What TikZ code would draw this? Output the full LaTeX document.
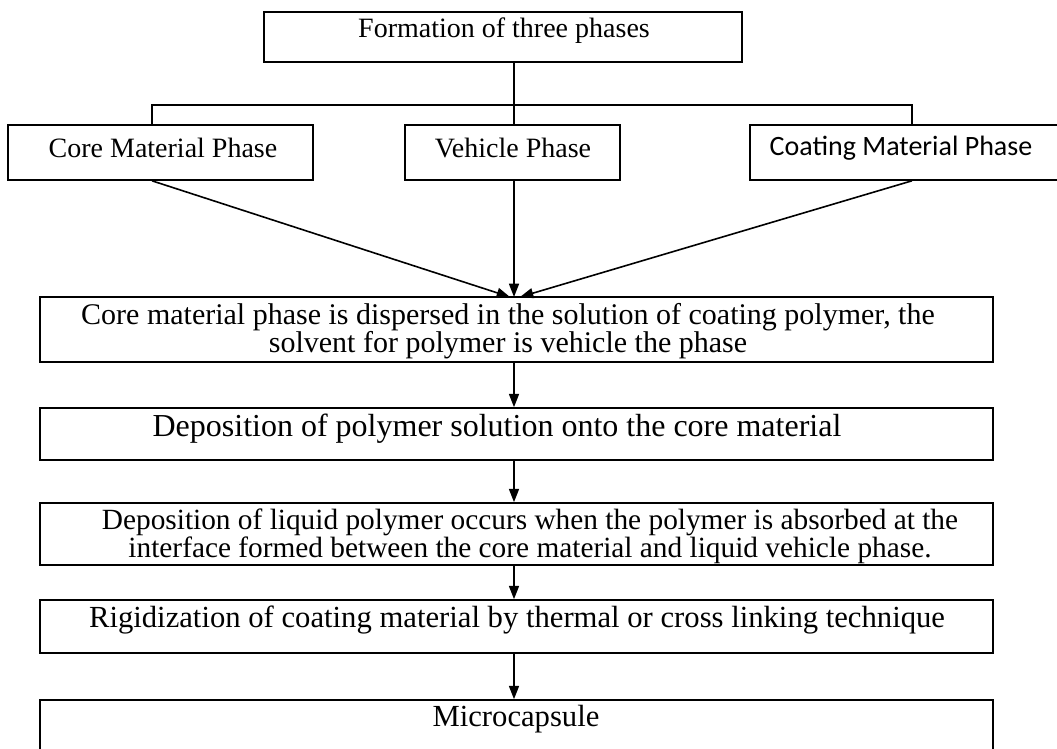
\documentclass[tikz,border=0pt]{standalone}
\usepackage{fontspec}
\setmainfont{Liberation Serif}
\newfontfamily\calib{Carlito}
\usetikzlibrary{arrows.meta,fit}
\begin{document}
\begin{tikzpicture}[x=0.75pt,y=-0.75pt,
  box/.style={draw, line width=1.2pt, inner sep=0pt},
  lbl/.style={anchor=center, inner sep=0pt, align=center, font=\fontsize{21}{21}\selectfont},
  conn/.style={line width=1.2pt},
  arr/.style={conn, -{Triangle[length=10pt,width=7.5pt]}}]
\clip (0,0) rectangle (1057,749);
% boxes
\node[box, fit={(264,12) (742,62)}] (top) {};
\node[box, fit={(8,125) (313,180)}] (core) {};
\node[box, fit={(405,125) (620,180)}] (veh) {};
\node[box, fit={(750,125) (1065,180)}] (coat) {};
\node[box, fit={(40,297) (993,362)}] (b1) {};
\node[box, fit={(40,408) (993,460)}] (b2) {};
\node[box, fit={(40,503) (993,565)}] (b3) {};
\node[box, fit={(40,600) (993,653)}] (b4) {};
\node[box, fit={(40,700) (993,760)}] (b5) {};
% texts
\node[lbl] (ttop) at (504,31) {Formation of three phases};
\node[lbl] (tcore) at (163,148) {Core Material Phase};
\node[lbl] (tveh) at (513,148) {Vehicle Phase};
\node[lbl, font=\calib\fontsize{21}{21}\selectfont] (tcoat) at (901,148) {Coating Material Phase};
\node[lbl, font=\fontsize{22.5}{21}\selectfont] (t1) at (508,331) {Core material phase is dispersed in the solution of coating polymer, the\\solvent for polymer is vehicle the phase};
\node[lbl, font=\fontsize{24}{21}\selectfont] (t2) at (497,429) {Deposition of polymer solution onto the core material};
\node[lbl, font=\fontsize{22}{21}\selectfont] (t3) at (530,536) {Deposition of liquid polymer occurs when the polymer is absorbed at the\\interface formed between the core material and liquid vehicle phase.};
\node[lbl, font=\fontsize{23}{21}\selectfont] (t4) at (517,620) {Rigidization of coating material by thermal or cross linking technique};
\node[lbl, font=\fontsize{23}{21}\selectfont] (t5) at (516,719) {Microcapsule};
% connectors
\coordinate (bl) at (152,105);
\coordinate (br) at (912,105);
\coordinate (spine) at (514,105);
\draw[conn] (spine |- top.south) -- (spine |- veh.north);
\draw[conn] (bl |- core.north) -- (bl) -- (br) -- (br |- coat.north);
\coordinate (mL) at (510,297);
\coordinate (mC) at (514,297);
\coordinate (mR) at (520,297);
\draw[arr] (bl |- core.south) -- (mL);
\draw[arr] (spine |- veh.south) -- (mC);
\draw[arr] (br |- coat.south) -- (mR);
\draw[arr] (spine |- b1.south) -- (spine |- b2.north);
\draw[arr] (spine |- b2.south) -- (spine |- b3.north);
\draw[arr] (spine |- b3.south) -- (spine |- b4.north);
\draw[arr] (spine |- b4.south) -- (spine |- b5.north);
\end{tikzpicture}
\end{document}
